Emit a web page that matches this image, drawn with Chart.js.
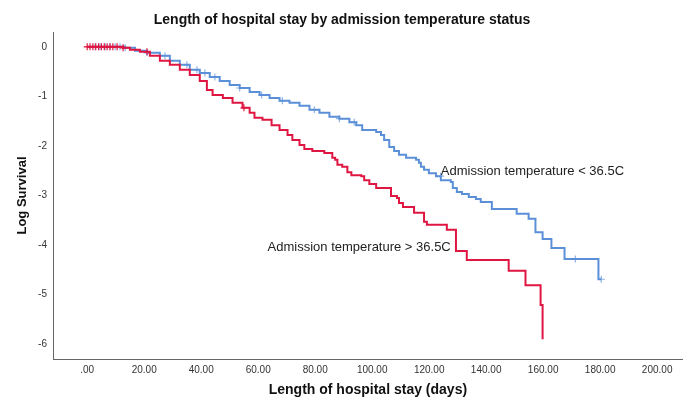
<!DOCTYPE html>
<html>
<head>
<meta charset="utf-8">
<script src="https://cdn.jsdelivr.net/npm/chart.js@4.4.0/dist/chart.umd.min.js"></script>
<style>
  html, body { margin: 0; padding: 0; background: #fff; }
</style>
</head>
<body>
<canvas id="km" width="688" height="410"></canvas>
<script>
  // tick positions
  const xTicks = [0, 20, 40, 60, 80, 100, 120, 140, 160, 180, 200];
  const yTicks = [0, -1, -2, -3, -4, -5, -6];

  // group labels
  const groupLow = 'Admission temperature < 36.5C';
  const groupHigh = 'Admission temperature > 36.5C';

  // step curve for temperature < 36.5C (days, log survival)
  const lowDays = [0, 8, 13.3, 16.8, 21, 25.5, 29, 32.5, 36, 39.5, 43, 46.5, 50, 53.5, 57, 60.5, 64, 67.5, 71, 74.5,
    78, 81.5, 85, 88.5, 92, 94.4, 96.5, 101.4, 103.1, 104.2, 106, 107.7, 109.4, 111.9, 115.4, 116.4, 117.1, 118.2,
    119.9, 122.4, 124.1, 127.6, 128.3, 129.7, 131.5, 133.9, 136.4, 138.1, 142, 150.7, 154.9, 157.3, 159.8, 162.9,
    167.5, 179.4, 180.4];
  const lowLog = [0, 0, -0.02, -0.08, -0.12, -0.18, -0.28, -0.36, -0.46, -0.53, -0.61, -0.69, -0.77, -0.83, -0.91,
    -0.97, -1.03, -1.09, -1.13, -1.19, -1.27, -1.33, -1.41, -1.45, -1.52, -1.58, -1.68, -1.72, -1.78, -1.88, -2.02,
    -2.10, -2.18, -2.24, -2.28, -2.34, -2.42, -2.48, -2.55, -2.61, -2.69, -2.73, -2.85, -2.93, -2.97, -3.03, -3.07,
    -3.13, -3.27, -3.37, -3.47, -3.74, -3.88, -4.06, -4.28, -4.69, -4.69];

  // step curve for temperature > 36.5C
  const highDays = [0, 12.6, 15, 18.5, 22, 25.5, 29, 32.5, 36, 39.5, 42, 44, 47.6, 51, 54.5, 57, 58.7, 61.5, 64.7,
    67.5, 70.3, 72, 74.5, 76.2, 79, 83.2, 86, 87, 87.8, 89.5, 91.3, 92.7, 96.2, 97.2, 99, 101.4, 106.6, 108.7, 109.4,
    110.8, 114.7, 118.2, 119.2, 126.2, 129.4, 133.2, 147.9, 153.8, 159.1, 159.8];
  const highLog = [0, -0.02, -0.06, -0.10, -0.18, -0.28, -0.36, -0.46, -0.57, -0.69, -0.87, -0.97, -1.03, -1.13,
    -1.23, -1.33, -1.43, -1.47, -1.58, -1.68, -1.78, -1.88, -1.98, -2.06, -2.10, -2.14, -2.24, -2.28, -2.38, -2.42,
    -2.53, -2.59, -2.61, -2.69, -2.77, -2.85, -3.01, -3.05, -3.15, -3.23, -3.35, -3.53, -3.59, -3.69, -4.12, -4.30,
    -4.52, -4.81, -5.21, -5.90];

  // censored times
  const lowCensored = [2.8, 4.5, 6.3, 8, 9.8, 11.5, 13.3, 21, 27.3, 35, 38.5, 41.3, 44.8, 53.5, 61.2, 68.5, 79.7,
    88.5, 93.7, 124, 171.3, 180.4];
  const highCensored = [0, 1, 2, 3, 4, 5, 6, 7, 8, 9, 10.5, 12.6, 21, 55];

  const blue = '#5b90d8';
  const red = '#df1641';

  function levelAt(days, logs, t) {
    let v = logs[0];
    for (let i = 0; i < days.length; i++) {
      if (days[i] <= t) v = logs[i];
    }
    return v;
  }

  const toPts = (xs, ys) => xs.map((x, i) => ({ x, y: ys[i] }));
  const marks = (xs, days, logs) => xs.map(t => ({ x: t, y: levelAt(days, logs, t) }));

  const notes = {
    id: 'notes',
    afterDatasetsDraw(chart) {
      const { ctx, scales: { x, y } } = chart;
      ctx.save();
      ctx.font = '13px "Liberation Sans", Arial, sans-serif';
      ctx.fillStyle = '#222';
      ctx.textBaseline = 'middle';
      ctx.fillText(groupLow, x.getPixelForValue(124.1), y.getPixelForValue(-2.52));
      ctx.fillText(groupHigh, x.getPixelForValue(63.3), y.getPixelForValue(-4.04));
      ctx.restore();
    }
  };

  new Chart(document.getElementById('km'), {
    type: 'line',
    data: {
      datasets: [
        {
          data: toPts(highDays, highLog),
          borderColor: red, borderWidth: 2, pointRadius: 0, stepped: 'before', fill: false
        },
        {
          data: marks(highCensored, highDays, highLog),
          showLine: false, pointStyle: 'cross', pointRadius: 3.5, pointBorderWidth: 1.2,
          pointBorderColor: red, borderColor: red
        },
        {
          data: toPts(lowDays, lowLog),
          borderColor: blue, borderWidth: 2, pointRadius: 0, stepped: 'before', fill: false
        },
        {
          data: marks(lowCensored, lowDays, lowLog),
          showLine: false, pointStyle: 'cross', pointRadius: 3.5, pointBorderWidth: 1.2,
          pointBorderColor: '#8fb4e6', borderColor: blue
        }
      ]
    },
    options: {
      responsive: false,
      animation: false,
      layout: { padding: { left: 0, right: 4, top: 0, bottom: 0 } },
      plugins: {
        legend: { display: false },
        tooltip: { enabled: false },
        title: {
          display: true,
          text: 'Length of hospital stay by admission temperature status',
          color: '#111',
          font: { family: '"Liberation Sans", Arial, sans-serif', size: 14, weight: 'bold' },
          padding: { top: 12, bottom: 3.2 }
        }
      },
      scales: {
        x: {
          type: 'linear',
          min: -12,
          max: 209,
          afterBuildTicks: s => { s.ticks = xTicks.map(v => ({ value: v })); },
          afterFit: s => { s.height = 51; },
          grid: { display: false, drawTicks: false },
          border: { color: '#666', width: 1 },
          ticks: {
            autoSkip: false, maxRotation: 0, padding: 5, color: '#333',
            font: { family: '"Liberation Sans", Arial, sans-serif', size: 10 },
            callback: v => v === 0 ? '.00' : v.toFixed(2)
          },
          title: {
            display: true, text: 'Length of hospital stay (days)', color: '#111',
            font: { family: '"Liberation Sans", Arial, sans-serif', size: 14, weight: 'bold' },
            padding: { top: 0, bottom: 11.6 }
          }
        },
        y: {
          min: -6.3,
          max: 0.3,
          afterBuildTicks: s => { s.ticks = yTicks.map(v => ({ value: v })); },
          afterFit: s => { s.width = 53; },
          grid: { display: false, drawTicks: false },
          border: { color: '#666', width: 1 },
          ticks: {
            padding: 6, color: '#333',
            font: { family: '"Liberation Sans", Arial, sans-serif', size: 10 },
            callback: v => String(v)
          },
          title: {
            display: true, text: 'Log Survival', color: '#111',
            font: { family: '"Liberation Sans", Arial, sans-serif', size: 13, weight: 'bold' },
            padding: { top: 14.2, bottom: 0 }
          }
        }
      }
    },
    plugins: [notes]
  });
</script>
</body>
</html>
